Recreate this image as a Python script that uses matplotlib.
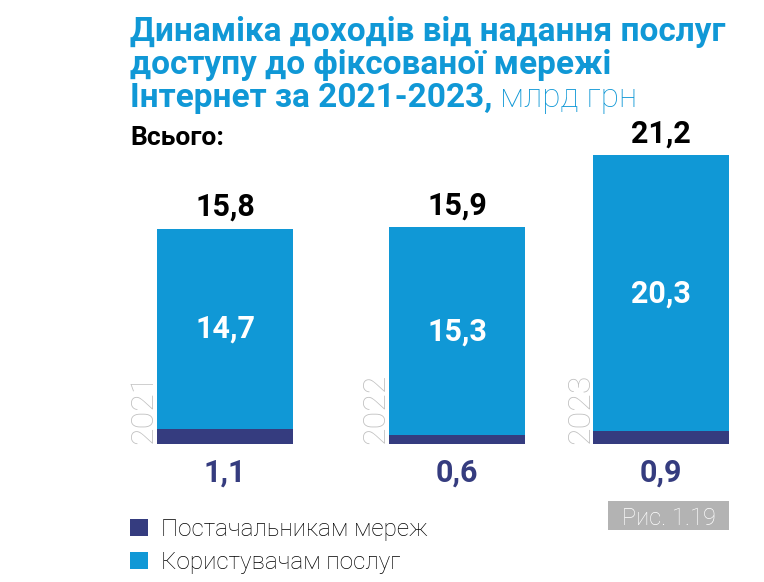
import matplotlib
matplotlib.use("Agg")
import matplotlib.pyplot as plt
from matplotlib.patches import Rectangle

# values (млрд грн)
years = ["2021", "2022", "2023"]
providers = [1.1, 0.6, 0.9]     # Постачальникам мереж
users = [14.7, 15.3, 20.3]      # Користувачам послуг
totals = [15.8, 15.9, 21.2]
legend_labels = ["Постачальникам мереж", "Користувачам послуг"]

title_lines = ["Динаміка доходів від надання послуг",
               "доступу до фіксованої мережі",
               "Інтернет за 2021-2023,"]
title_unit = " млрд грн"
fig_label = "Рис. 1.19"

BLUE = "#1098D6"
NAVY = "#353C7F"
GREY = "#C0C0C0"

W, H = 764, 582


def fmt(v):
    return f"{v:.1f}".replace(".", ",")


def fy(px):
    # pixel row from top -> figure fraction
    return 1 - px / H


plt.rcParams["font.family"] = ["Roboto", "DejaVu Sans"]

fig = plt.figure(figsize=(W / 100, H / 100), dpi=100)
ax = fig.add_axes([0, 0, 1, 1])

x_pos = [0, 1, 1.88]
bar_w = 0.586
b_prov = ax.bar(x_pos, providers, width=bar_w, color=NAVY)
b_user = ax.bar(x_pos, users, bottom=providers, width=bar_w, color=BLUE)
ax.set_xlim(-0.97, 2.323)
ax.set_ylim(-10.18, 32.6)
ax.axis("off")

for x, p, u, t, yr in zip(x_pos, providers, users, totals, years):
    ax.annotate(fmt(t), (x, t), xytext=(0, 5), textcoords="offset points",
                ha="center", va="bottom", fontsize=22, fontweight="bold", color="black")
    ax.text(x, p + u / 2, fmt(u), ha="center", va="center",
            fontsize=22, fontweight="bold", color="white")
    ax.annotate(fmt(p), (x, 0), xytext=(0, -10), textcoords="offset points",
                ha="center", va="top", fontsize=22, fontweight="bold", color=NAVY)
    # year label, rotated, hugging the left edge of the bar
    ax.annotate(yr, (x - bar_w / 2, 0), xytext=(1, 0), textcoords="offset points",
                ha="right", va="bottom", rotation=90, fontsize=23,
                fontweight="light", color=GREY)

# title
for i, line in enumerate(title_lines):
    t = fig.text(130 / W, fy(41 + 33 * i), line, ha="left", va="baseline",
                 fontsize=24, fontweight="bold", color=BLUE)
r = fig.canvas.get_renderer()
bb = t.get_window_extent(r)
fig.text(bb.x1 / W, fy(41 + 33 * 2), title_unit, ha="left", va="baseline",
         fontsize=24, fontweight="light", color=BLUE)

fig.text(130 / W, fy(145), "Всього:", ha="left", va="baseline",
         fontsize=19, fontweight="bold", color="black")

# legend
fig.legend([b_prov, b_user], legend_labels, loc="upper left",
           bbox_to_anchor=(130 / W, fy(518)), frameon=False,
           handlelength=0.72, handleheight=0.72, handletextpad=0.55,
           labelspacing=0.42, borderpad=0, borderaxespad=0,
           prop={"weight": "light", "size": 17.5})

fig.patches.append(Rectangle((608 / W, fy(530)), 121 / W, 29 / H,
                             transform=fig.transFigure, facecolor="#B3B3B3",
                             edgecolor="none"))
fig.text(668.5 / W, fy(525), fig_label, ha="center", va="baseline",
         fontsize=17, fontweight="light", color="white")

fig.savefig("out.png", dpi=100)
